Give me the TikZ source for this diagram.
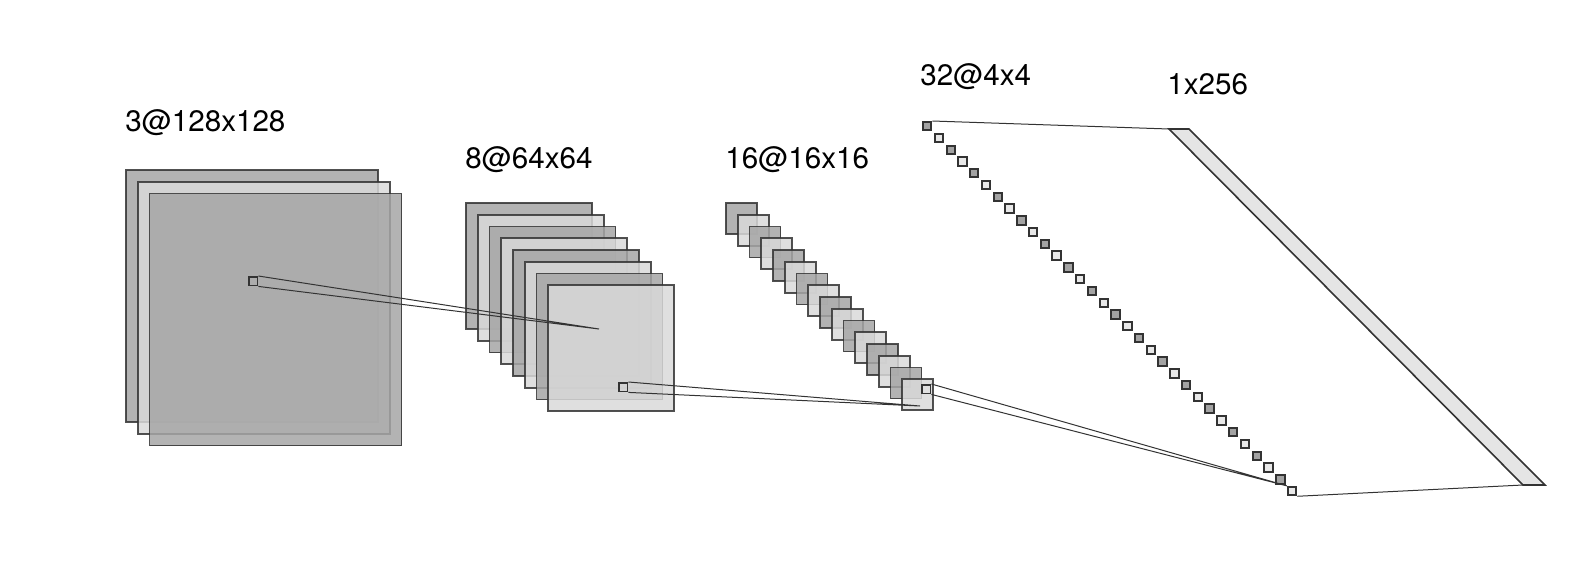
\documentclass[tikz,border=0pt]{standalone}
\usepackage{fontspec}
\setmainfont{TeX Gyre Heros}
\definecolor{edgec}{gray}{0.2}
\definecolor{darkc}{gray}{0.65}
\definecolor{lightc}{gray}{0.85}
\definecolor{udark}{gray}{0.64}
\definecolor{ulight}{gray}{0.91}
\definecolor{densec}{gray}{0.9}
\begin{document}
\begin{tikzpicture}[x=0.5pt,y=-0.5pt,
  fm/.style={draw=edgec, line width=0.8pt, opacity=0.85},
  s0/.style={fm, fill=darkc},
  s1/.style={fm, fill=lightc},
  unit/.style={draw=edgec, line width=1pt, minimum size=4.2pt, inner sep=0pt, anchor=north west},
  u0/.style={unit, fill=udark},
  u1/.style={unit, fill=ulight},
  patch/.style={draw=edgec, line width=0.8pt, minimum size=4.4pt, inner sep=0pt, anchor=north west},
  conn/.style={draw=edgec, line width=0.5pt},
  densebox/.style={draw=edgec, line width=0.8pt, fill=densec},
  lbl/.style={anchor=base west, inner sep=0pt, font=\fontsize{14.8}{17}\selectfont}]
\path[use as bounding box] (0,0) rectangle (1596,568);

% layer 1: 3@128x128
\foreach \i in {0,1,2}{
  \pgfmathtruncatemacro\p{mod(\i,2)}
  \draw[s\p] ({126+\i*11.75},{170+\i*11.75}) rectangle +(252,252);
}
% layer 2: 8@64x64
\foreach \i in {0,...,7}{
  \pgfmathtruncatemacro\p{mod(\i,2)}
  \draw[s\p] ({466+\i*11.75},{203+\i*11.75}) rectangle +(126,126);
}
% layer 3: 16@16x16
\foreach \i in {0,...,15}{
  \pgfmathtruncatemacro\p{mod(\i,2)}
  \draw[s\p] ({726+\i*11.75},{203+\i*11.75}) rectangle +(31,31);
}
% layer 4: 32@4x4 units
\foreach \i in {1,...,32}{
  \pgfmathtruncatemacro\p{mod(\i-1,2)}
  \node[u\p] (u\i) at ({922+(\i-1)*11.77},{121+(\i-1)*11.77}) {};
}
% dense layer 1x256
\coordinate (d1) at (1169,129);
\coordinate (d2) at (1189,129);
\coordinate (d3) at (1545,485);
\coordinate (d4) at (1523,485);
\draw[densebox] (d1) -- (d2) -- (d3) -- (d4) -- cycle;

% patches
\node[patch] (p1) at (248,276) {};
\node[patch] (p2) at (618,382) {};
\node[patch] (p3) at (921,384) {};
\coordinate (c1) at (599,329);
\coordinate (c2) at (920,406);

% connectors
\draw[conn] (p1.north east) -- (c1) -- (p1.south east);
\draw[conn] (p2.north east) -- (c2) -- (p2.south east);
\draw[conn] (p3.north east) -- (u32.north west) -- (p3.south east);
\draw[conn] (u1.north east) -- (d1);
\draw[conn] (u32.south east) -- (d4);

% labels
\node[lbl] (l1) at (125,131) {3@128x128};
\node[lbl] (l2) at (465,168) {8@64x64};
\node[lbl] (l3) at (725,168) {16@16x16};
\node[lbl] (l4) at (920,85) {32@4x4};
\node[lbl] (l5) at (1167,94) {1x256};
\end{tikzpicture}
\end{document}
